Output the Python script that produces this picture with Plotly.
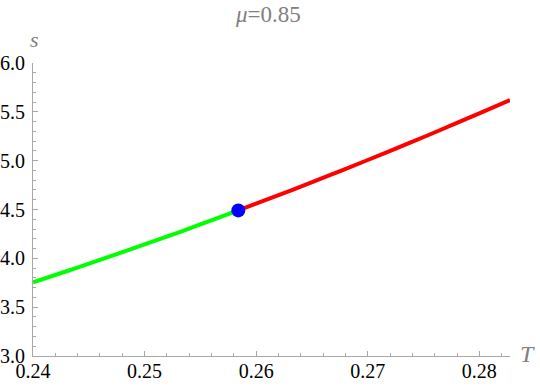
import plotly.graph_objects as go

# data
T_green = [0.24, 0.243, 0.246, 0.25, 0.2532, 0.2558, 0.2584]
s_green = [3.755, 3.868, 3.984, 4.142, 4.272, 4.381, 4.491]
T_red = [0.2584, 0.2632, 0.2666, 0.27, 0.2738, 0.2764, 0.28, 0.28275]
s_red = [4.491, 4.699, 4.851, 5.007, 5.184, 5.309, 5.485, 5.62]
T_point = [0.2584]
s_point = [4.491]
x_ticks = [0.24, 0.25, 0.26, 0.27, 0.28]
x_labels = ["0.24", "0.25", "0.26", "0.27", "0.28"]
y_ticks = [3.0, 3.5, 4.0, 4.5, 5.0, 5.5, 6.0]
y_labels = ["3.0", "3.5", "4.0", "4.5", "5.0", "5.5", "6.0"]

FONT = "'Liberation Serif', 'DejaVu Serif', serif"
GRAY = "#a8a8a8"

fig = go.Figure()
fig.add_trace(go.Scatter(x=T_green, y=s_green, mode="lines",
                         line=dict(color="#00ff00", width=4, shape="spline", smoothing=1.0),
                         showlegend=False, hoverinfo="skip"))
fig.add_trace(go.Scatter(x=T_red, y=s_red, mode="lines",
                         line=dict(color="#ff0000", width=4, shape="spline", smoothing=1.0),
                         showlegend=False, hoverinfo="skip"))
fig.add_trace(go.Scatter(x=T_point, y=s_point, mode="markers",
                         marker=dict(color="#0000ff", size=14),
                         showlegend=False, hoverinfo="skip"))

axis_common = dict(showgrid=False, zeroline=False, showline=True, linecolor=GRAY, linewidth=1,
                   ticks="inside", tickcolor=GRAY, ticklen=5, tickwidth=1, automargin=False,
                   tickfont=dict(family=FONT, size=20, color="black"))

fig.update_layout(
    width=540, height=388,
    margin=dict(l=33, r=30, t=63, b=32, autoexpand=False),
    paper_bgcolor="white", plot_bgcolor="white",
    font=dict(family=FONT),
    xaxis=dict(range=[0.24, 0.28275], tickvals=x_ticks, ticktext=x_labels,
               minor=dict(dtick=0.002, tick0=0.24, ticks="inside", ticklen=3, tickcolor=GRAY),
               ticklabelstandoff=-3, **axis_common),
    yaxis=dict(range=[3.0, 6.0], tickvals=y_ticks, ticktext=y_labels,
               minor=dict(dtick=0.1, tick0=3.0, ticks="inside", ticklen=3, tickcolor=GRAY),
               ticklabelstandoff=3, **axis_common),
    annotations=[
        dict(text="<i>μ</i>=0.85", xref="paper", yref="paper", x=0.493, y=1.0, yshift=49,
             showarrow=False, xanchor="center", yanchor="middle",
             font=dict(family=FONT, size=23, color="#808080")),
        dict(text="<i>s</i>", xref="paper", yref="paper", x=0, y=1, xshift=1, yshift=24,
             showarrow=False, xanchor="center", yanchor="middle",
             font=dict(family=FONT, size=22, color="#808080")),
        dict(text="<i>T</i>", xref="paper", yref="paper", x=1, y=0, xshift=17, yshift=2,
             showarrow=False, xanchor="center", yanchor="middle",
             font=dict(family=FONT, size=24, color="#808080")),
    ],
)

fig.write_html("out.html", config={"displayModeBar": False},
               post_script="document.body.style.margin='0';document.body.style.padding='0';")
